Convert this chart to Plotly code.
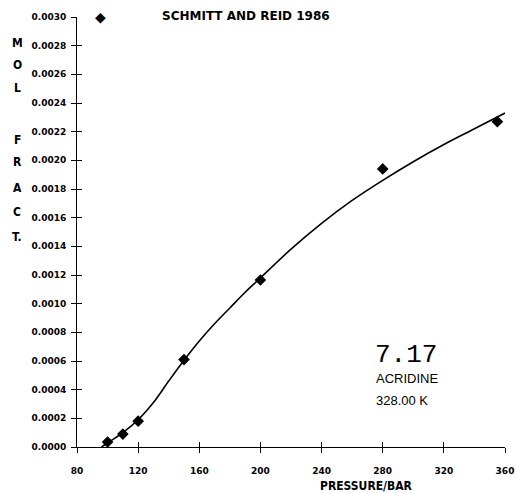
import plotly.graph_objects as go

# Measured solubility of acridine (Schmitt and Reid, 1986) at 328.00 K
pressure_bar = [100, 110, 120, 150, 200, 280, 355]
mol_fraction = [0.000035, 0.00009, 0.00018, 0.00061, 0.001165, 0.00194, 0.00227]

# Smoothed correlation curve through the data
curve_p = [96, 100, 110, 120, 130, 140, 150, 160, 170, 180, 190, 200,
           220, 240, 260, 280, 300, 320, 340, 360]
curve_y = [0.0, 0.000028, 0.0001, 0.00019, 0.00031, 0.00046, 0.000605, 0.00074, 0.00086,
           0.00097, 0.00108, 0.00118, 0.00138, 0.00156, 0.00172, 0.00186, 0.00199,
           0.00211, 0.00222, 0.00233]

x_ticks = [80, 120, 160, 200, 240, 280, 320, 360]
y_ticks = [i * 0.0002 for i in range(16)]
y_tick_text = [f"{v:.4f}" for v in y_ticks]

tick_font = dict(family="DejaVu Sans", size=9, color="black", weight="bold")

W, H = 517, 493
L, R, T, B = 77, 12, 17, 46
PW, PH = W - L - R, H - T - B


def px(x):
    return (x - L) / PW


def py(y):
    return (H - B - y) / PH


fig = go.Figure()
fig.add_trace(go.Scatter(
    x=curve_p, y=curve_y, mode="lines", line=dict(color="black", width=1.6, shape="spline"),
    showlegend=False, hoverinfo="skip"))
fig.add_trace(go.Scatter(
    x=pressure_bar, y=mol_fraction, mode="markers", name="SCHMITT AND REID 1986",
    marker=dict(symbol="diamond", size=9, color="black"), showlegend=False))
# invisible trace to bring in the inside tick marks
fig.add_trace(go.Scatter(x=[None], y=[None], xaxis="x2", yaxis="y2", showlegend=False))

fig.update_layout(
    width=W, height=H,
    margin=dict(l=L, r=R, t=T, b=B, autoexpand=False),
    paper_bgcolor="white", plot_bgcolor="white",
    showlegend=False,
    xaxis=dict(range=[80, 360], tickvals=x_ticks, ticktext=[str(v) for v in x_ticks],
               showgrid=False, zeroline=False, showline=True, linecolor="black", linewidth=1,
               ticks="outside", ticklen=5, tickcolor="black", tickwidth=1, automargin=False,
               tickfont=tick_font, ticklabelstandoff=10),
    yaxis=dict(range=[0, 0.003], tickvals=y_ticks, ticktext=y_tick_text,
               showgrid=False, zeroline=False, showline=True, linecolor="black", linewidth=1,
               ticks="outside", ticklen=5, tickcolor="black", tickwidth=1, automargin=False,
               tickfont=tick_font, ticklabelstandoff=3),
    xaxis2=dict(range=[80, 360], overlaying="x", matches="x", tickvals=x_ticks,
                showticklabels=False, showgrid=False, zeroline=False, automargin=False,
                ticks="inside", ticklen=5, tickcolor="black", side="bottom"),
    yaxis2=dict(range=[0, 0.003], overlaying="y", matches="y", tickvals=y_ticks,
                showticklabels=False, showgrid=False, zeroline=False, automargin=False,
                ticks="inside", ticklen=5, tickcolor="black", side="left"),
)

# Key: data symbol followed by the source
fig.add_annotation(text="◆", x=px(100), y=py(17), xref="paper", yref="paper",
                   xanchor="center", yanchor="middle", showarrow=False,
                   font=dict(family="DejaVu Sans", size=14, color="black"))
fig.add_annotation(text="SCHMITT AND REID 1986", x=px(160), y=py(16), xref="paper", yref="paper",
                   xanchor="left", yanchor="middle", showarrow=False,
                   font=dict(family="DejaVu Sans", size=12, color="black", weight="bold"))

# Vertical axis title, one letter per line
letters = [("M", 43), ("O", 65), ("L", 88), ("F", 140), ("R", 162),
           ("A", 188), ("C", 212), ("T.", 237)]
for ch, ypix in letters:
    fig.add_annotation(text=ch, x=px(17), y=py(ypix), xref="paper", yref="paper",
                       xanchor="center", yanchor="middle", showarrow=False,
                       font=dict(family="DejaVu Sans Condensed", size=12, color="black", weight="bold"))

fig.add_annotation(text="PRESSURE/BAR", x=px(318), y=py(486), xref="paper", yref="paper",
                   xanchor="left", yanchor="middle", showarrow=False,
                   font=dict(family="DejaVu Sans Condensed", size=12, color="black", weight="bold"))
fig.add_annotation(text="7.17", x=px(373), y=py(355), xref="paper", yref="paper",
                   xanchor="left", yanchor="middle", showarrow=False,
                   font=dict(family="Liberation Mono", size=26, color="black"))
fig.add_annotation(text="ACRIDINE", x=px(374), y=py(378), xref="paper", yref="paper",
                   xanchor="left", yanchor="middle", showarrow=False,
                   font=dict(family="Liberation Sans", size=13, color="black"))
fig.add_annotation(text="328.00 K", x=px(374), y=py(400), xref="paper", yref="paper",
                   xanchor="left", yanchor="middle", showarrow=False,
                   font=dict(family="Liberation Sans", size=13, color="black"))

fig.write_html("out.html")
